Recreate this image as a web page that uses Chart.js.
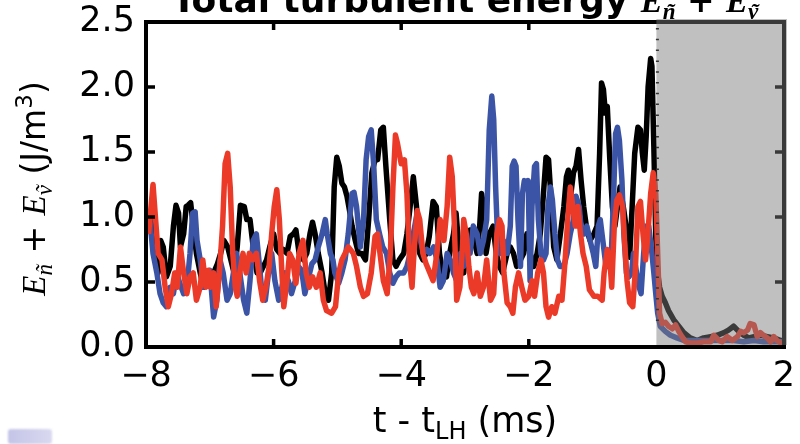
<!DOCTYPE html>
<html>
<head>
<meta charset="utf-8">
<title>Total turbulent energy</title>
<script src="https://cdn.jsdelivr.net/npm/chart.js@4.4.0/dist/chart.umd.min.js"></script>
<style>
    html, body { margin: 0; padding: 0; background: #ffffff; }
    #wrap { position: relative; width: 800px; height: 444px; overflow: hidden; }
    #energy-chart { position: absolute; left: 0; top: 0; }
    #corner-mark {
        position: absolute; left: 8px; top: 429px; width: 44px; height: 15px;
        background: linear-gradient(90deg, #c4c4e8, #d9d9f0);
        border-radius: 3px; filter: blur(1px);
    }
</style>
</head>
<body>
<div id="wrap">
    <canvas id="energy-chart" width="800" height="444"></canvas>
    <div id="corner-mark"></div>
</div>
<script>
// Time axis ticks (ms relative to the L-H transition) and energy ticks (J/m^3)
const timeTicks = [-8, -6, -4, -2, 0, 2];
const energyTicks = [0.0, 0.5, 1.0, 1.5, 2.0, 2.5];

// Black trace
const blackT = [-7.96, -7.91, -7.86, -7.81, -7.77, -7.73, -7.68, -7.62, -7.57, -7.53, -7.49, -7.46, -7.41, -7.37, -7.34, -7.30, -7.26, -7.21, -7.15, -7.10,
    -7.05, -7.00, -6.94, -6.88, -6.83, -6.78, -6.72, -6.67, -6.62, -6.57, -6.52, -6.46, -6.42, -6.37, -6.32, -6.26, -6.21, -6.16, -6.11, -6.06,
    -6.00, -5.95, -5.90, -5.85, -5.79, -5.74, -5.69, -5.65, -5.60, -5.53, -5.48, -5.43, -5.39, -5.35, -5.30, -5.24, -5.19, -5.14, -5.09, -5.05,
    -5.01, -4.97, -4.93, -4.89, -4.85, -4.81, -4.77, -4.72, -4.67, -4.62, -4.56, -4.51, -4.46, -4.41, -4.37, -4.32, -4.28, -4.24, -4.18, -4.13,
    -4.08, -4.03, -3.96, -3.91, -3.86, -3.81, -3.76, -3.71, -3.66, -3.61, -3.56, -3.50, -3.45, -3.40, -3.35, -3.29, -3.24, -3.18, -3.14, -3.09,
    -3.02, -2.97, -2.92, -2.87, -2.81, -2.77, -2.74, -2.71, -2.67, -2.62, -2.56, -2.51, -2.46, -2.41, -2.34, -2.29, -2.24, -2.19, -2.13, -2.08,
    -2.03, -1.98, -1.92, -1.87, -1.82, -1.77, -1.73, -1.69, -1.65, -1.61, -1.56, -1.51, -1.45, -1.41, -1.38, -1.34, -1.30, -1.26, -1.22, -1.18,
    -1.14, -1.09, -1.04, -0.98, -0.93, -0.89, -0.86, -0.83, -0.80, -0.77, -0.73, -0.69, -0.65, -0.61, -0.57, -0.51, -0.46, -0.42, -0.38, -0.34,
    -0.29, -0.25, -0.22, -0.19, -0.16, -0.13, -0.09, -0.07, -0.04, -0.01, 0.02, 0.05, 0.09, 0.14, 0.19, 0.27, 0.35, 0.43, 0.53, 0.64,
    0.74, 0.85, 0.95, 1.06, 1.13, 1.21, 1.29, 1.37, 1.45, 1.53, 1.63, 1.74, 1.84, 1.95, 2.00];
const blackE = [0.87, 0.98, 0.72, 0.57, 0.82, 0.77, 0.54, 0.62, 0.93, 1.09, 1.03, 0.77, 0.87, 1.08, 1.09, 1.11, 0.93, 0.72, 0.57, 0.46,
    0.51, 0.57, 0.57, 0.64, 0.72, 0.82, 0.77, 0.67, 0.57, 0.77, 1.09, 1.08, 0.98, 0.98, 0.77, 0.57, 0.57, 0.62, 0.67, 0.77,
    0.87, 0.75, 0.72, 0.75, 0.72, 0.85, 0.87, 0.90, 0.72, 0.67, 0.72, 0.87, 0.96, 0.87, 0.72, 0.57, 0.41, 0.36, 0.57, 1.23,
    1.46, 1.39, 1.26, 1.23, 1.16, 1.05, 0.93, 0.82, 0.72, 0.72, 0.67, 0.98, 1.34, 1.44, 1.44, 1.67, 1.69, 1.39, 0.98, 0.67,
    0.62, 0.67, 0.72, 0.87, 1.08, 1.31, 1.08, 0.72, 0.67, 0.72, 0.85, 1.12, 1.08, 0.72, 0.57, 0.54, 0.72, 0.87, 1.03, 0.72,
    0.57, 0.82, 0.90, 0.85, 0.72, 0.93, 1.18, 1.08, 0.72, 0.87, 0.93, 0.72, 0.62, 0.57, 0.72, 0.77, 0.72, 0.62, 0.67, 0.72,
    0.87, 0.72, 0.62, 0.72, 0.87, 1.18, 1.46, 1.44, 1.13, 0.77, 0.67, 0.85, 1.08, 1.31, 1.36, 1.18, 1.34, 1.39, 1.52, 1.28,
    1.08, 0.90, 0.82, 0.87, 0.93, 1.49, 2.03, 1.98, 1.80, 1.85, 1.44, 1.08, 0.93, 1.08, 1.23, 1.05, 0.87, 0.69, 1.08, 1.49,
    1.69, 1.67, 1.49, 1.36, 1.62, 2.00, 2.22, 2.16, 1.54, 0.85, 0.57, 0.46, 0.39, 0.34, 0.28, 0.21, 0.16, 0.11, 0.07, 0.05,
    0.07, 0.08, 0.09, 0.11, 0.13, 0.16, 0.12, 0.09, 0.07, 0.08, 0.09, 0.08, 0.07, 0.05, 0.05];

// Blue trace
const blueT = [-7.98, -7.94, -7.89, -7.83, -7.78, -7.73, -7.68, -7.62, -7.57, -7.52, -7.47, -7.41, -7.36, -7.31, -7.27, -7.23, -7.20, -7.15, -7.10, -7.05,
    -7.00, -6.94, -6.89, -6.84, -6.79, -6.73, -6.68, -6.63, -6.58, -6.53, -6.47, -6.42, -6.37, -6.32, -6.27, -6.24, -6.19, -6.13, -6.08, -6.03,
    -5.98, -5.92, -5.87, -5.82, -5.77, -5.72, -5.66, -5.61, -5.56, -5.51, -5.45, -5.40, -5.35, -5.30, -5.24, -5.19, -5.16, -5.11, -5.07, -5.04,
    -4.98, -4.93, -4.88, -4.83, -4.77, -4.74, -4.70, -4.64, -4.59, -4.55, -4.51, -4.47, -4.43, -4.39, -4.34, -4.29, -4.23, -4.18, -4.13, -4.08,
    -4.03, -3.96, -3.91, -3.86, -3.81, -3.75, -3.70, -3.65, -3.60, -3.55, -3.49, -3.44, -3.39, -3.34, -3.28, -3.23, -3.18, -3.13, -3.07, -3.02,
    -2.97, -2.92, -2.87, -2.81, -2.76, -2.71, -2.66, -2.62, -2.58, -2.55, -2.52, -2.49, -2.45, -2.40, -2.34, -2.29, -2.26, -2.23, -2.20, -2.17,
    -2.13, -2.10, -2.07, -2.04, -2.01, -1.98, -1.95, -1.91, -1.88, -1.85, -1.81, -1.77, -1.73, -1.70, -1.66, -1.63, -1.59, -1.55, -1.51, -1.45,
    -1.40, -1.35, -1.30, -1.26, -1.21, -1.17, -1.13, -1.09, -1.04, -0.99, -0.95, -0.91, -0.88, -0.84, -0.79, -0.75, -0.71, -0.67, -0.64, -0.61,
    -0.58, -0.54, -0.51, -0.47, -0.43, -0.39, -0.36, -0.31, -0.27, -0.24, -0.20, -0.16, -0.12, -0.07, -0.04, -0.01, 0.02, 0.06, 0.14, 0.22,
    0.32, 0.43, 0.58, 0.74, 0.90, 1.06, 1.21, 1.37, 1.53, 1.68, 1.84, 2.00];
const blueE = [0.87, 0.98, 0.72, 0.57, 0.41, 0.34, 0.31, 0.46, 0.41, 0.57, 0.49, 0.41, 0.46, 0.72, 1.03, 1.04, 0.82, 0.67, 0.46, 0.57,
    0.59, 0.23, 0.36, 0.67, 0.57, 0.36, 0.41, 0.57, 0.72, 0.57, 0.36, 0.26, 0.51, 0.82, 0.87, 0.72, 0.46, 0.36, 0.57, 0.72,
    0.51, 0.36, 0.46, 0.57, 0.51, 0.41, 0.51, 0.62, 0.59, 0.41, 0.54, 0.64, 0.67, 0.77, 0.87, 0.98, 0.87, 0.72, 0.67, 0.57,
    0.49, 0.57, 0.67, 0.87, 1.18, 1.19, 1.08, 0.77, 0.98, 1.44, 1.62, 1.67, 1.39, 0.98, 0.87, 0.77, 0.72, 0.57, 0.49, 0.54,
    0.57, 0.57, 0.62, 0.72, 0.87, 1.03, 0.82, 0.72, 0.75, 0.72, 0.77, 0.67, 0.46, 0.51, 0.72, 0.67, 0.57, 0.51, 0.72, 0.62,
    0.82, 0.72, 0.93, 0.87, 0.72, 0.82, 0.98, 1.67, 1.93, 1.75, 1.23, 0.85, 0.72, 0.82, 0.72, 0.93, 1.39, 1.43, 1.39, 0.98,
    0.62, 1.18, 1.28, 1.23, 1.28, 0.51, 1.08, 1.39, 1.41, 0.98, 0.72, 0.67, 0.72, 1.08, 1.23, 1.13, 0.87, 0.67, 0.62, 0.62,
    0.72, 0.87, 0.98, 1.16, 1.08, 0.87, 0.87, 0.93, 0.82, 0.72, 0.62, 0.93, 0.98, 0.82, 0.62, 0.62, 0.67, 1.18, 1.64, 1.69,
    1.59, 1.28, 0.87, 0.57, 0.54, 0.57, 0.72, 0.57, 0.46, 0.41, 0.72, 0.93, 0.93, 0.72, 0.57, 0.41, 0.26, 0.16, 0.12, 0.09,
    0.07, 0.05, 0.05, 0.05, 0.05, 0.05, 0.05, 0.04, 0.05, 0.04, 0.04, 0.04];

// Red trace
const redT = [-7.96, -7.89, -7.81, -7.75, -7.70, -7.65, -7.60, -7.55, -7.51, -7.46, -7.41, -7.36, -7.31, -7.26, -7.21, -7.15, -7.11, -7.06, -7.02, -6.99,
    -6.94, -6.90, -6.85, -6.80, -6.76, -6.72, -6.68, -6.64, -6.60, -6.57, -6.53, -6.48, -6.43, -6.38, -6.33, -6.27, -6.22, -6.17, -6.12, -6.07,
    -6.03, -5.99, -5.95, -5.91, -5.87, -5.84, -5.79, -5.75, -5.70, -5.65, -5.60, -5.54, -5.49, -5.44, -5.39, -5.33, -5.27, -5.22, -5.17, -5.09,
    -5.03, -4.98, -4.93, -4.88, -4.83, -4.75, -4.70, -4.64, -4.59, -4.53, -4.47, -4.41, -4.37, -4.32, -4.28, -4.22, -4.17, -4.13, -4.09, -4.06,
    -4.00, -3.95, -3.91, -3.87, -3.83, -3.80, -3.75, -3.71, -3.66, -3.61, -3.55, -3.50, -3.44, -3.39, -3.33, -3.28, -3.24, -3.20, -3.17, -3.13,
    -3.08, -3.04, -3.02, -2.98, -2.94, -2.90, -2.86, -2.81, -2.76, -2.71, -2.66, -2.60, -2.55, -2.50, -2.46, -2.42, -2.39, -2.34, -2.29, -2.25,
    -2.21, -2.16, -2.11, -2.06, -2.00, -1.95, -1.91, -1.86, -1.81, -1.77, -1.73, -1.69, -1.64, -1.59, -1.53, -1.48, -1.43, -1.39, -1.35, -1.31,
    -1.27, -1.23, -1.19, -1.15, -1.10, -1.05, -0.98, -0.92, -0.85, -0.82, -0.77, -0.73, -0.70, -0.66, -0.62, -0.58, -0.53, -0.50, -0.46, -0.42,
    -0.37, -0.33, -0.29, -0.25, -0.21, -0.17, -0.14, -0.09, -0.05, -0.01, 0.02, 0.05, 0.09, 0.14, 0.19, 0.25, 0.30, 0.35, 0.40, 0.46,
    0.53, 0.64, 0.74, 0.85, 0.90, 0.98, 1.03, 1.11, 1.19, 1.27, 1.32, 1.37, 1.43, 1.47, 1.53, 1.58, 1.63, 1.68, 1.74, 1.79,
    1.84, 1.89, 1.95, 2.00];
const redE = [0.87, 1.25, 0.72, 0.67, 0.46, 0.31, 0.41, 0.57, 0.46, 0.77, 0.57, 0.41, 0.54, 0.57, 0.36, 0.46, 0.67, 0.46, 0.59, 0.46,
    0.57, 0.31, 0.57, 0.93, 1.41, 1.49, 1.23, 0.72, 0.46, 0.39, 0.57, 0.72, 0.57, 0.72, 0.67, 0.72, 0.51, 0.36, 0.46, 0.62,
    0.87, 1.08, 1.21, 0.98, 0.57, 0.31, 0.51, 0.72, 0.67, 0.49, 0.72, 0.82, 0.57, 0.46, 0.54, 0.46, 0.57, 0.36, 0.28, 0.26,
    0.31, 0.57, 0.67, 0.72, 0.77, 0.72, 0.62, 0.46, 0.39, 0.41, 0.57, 0.85, 0.87, 0.67, 0.51, 0.41, 0.72, 1.23, 1.63, 1.57,
    1.41, 1.44, 1.18, 0.67, 0.46, 0.72, 1.05, 0.98, 0.72, 0.64, 0.57, 0.51, 0.72, 0.98, 0.82, 1.08, 1.46, 1.31, 0.98, 0.36,
    0.46, 0.77, 0.98, 0.87, 0.62, 0.46, 0.41, 0.57, 0.39, 0.46, 0.67, 0.36, 0.41, 0.87, 0.98, 0.93, 0.57, 0.34, 0.31, 0.26,
    0.46, 0.57, 0.46, 0.36, 0.39, 0.51, 0.39, 0.57, 0.67, 0.57, 0.31, 0.23, 0.31, 0.26, 0.39, 0.36, 0.67, 0.98, 1.23, 1.08,
    0.93, 1.08, 0.87, 0.72, 0.62, 0.44, 0.39, 0.39, 0.36, 0.57, 0.75, 0.67, 0.46, 0.93, 1.13, 1.17, 1.08, 0.82, 0.51, 0.34,
    0.31, 0.59, 1.08, 1.12, 0.87, 0.67, 0.82, 1.18, 1.34, 1.18, 0.72, 0.26, 0.18, 0.19, 0.16, 0.14, 0.17, 0.12, 0.08, 0.04,
    0.03, 0.03, 0.04, 0.04, 0.09, 0.05, 0.04, 0.08, 0.05, 0.08, 0.12, 0.11, 0.13, 0.18, 0.17, 0.08, 0.11, 0.09, 0.07, 0.04,
    0.08, 0.05, 0.03, 0.03];

// Colours
const colors = {
    black: '#000000',
    blue: '#3b54a6',
    red: '#ec3a28',
    shade: 'rgba(122, 122, 122, 0.475)'
};

const FONT = 'DejaVu Sans';

function toPoints(times, values) {
    return times.map((t, i) => ({ x: t, y: values[i] }));
}

function traceDataset(label, times, values, color) {
    return {
        label: label,
        data: toPoints(times, values),
        borderColor: color,
        backgroundColor: color,
        borderWidth: 5.5,
        borderJoinStyle: 'round',
        pointRadius: 0,
        tension: 0,
        fill: false
    };
}

/**
 * Axes box, inward ticks, the shaded post-transition window and the dashed t = 0 marker
 */
const framePlugin = {
    id: 'frame',
    afterDatasetsDraw(chart) {
        const { ctx, chartArea: a, scales: { x, y } } = chart;
        ctx.save();

        ctx.strokeStyle = '#000';
        ctx.lineWidth = 3.5;
        ctx.beginPath();
        timeTicks.slice(1, -2).forEach(v => {
            const px = x.getPixelForValue(v);
            ctx.moveTo(px, a.bottom);
            ctx.lineTo(px, a.bottom - 8);
            ctx.moveTo(px, a.top);
            ctx.lineTo(px, a.top + 8);
        });
        energyTicks.slice(1, -1).forEach(v => {
            const py = y.getPixelForValue(v);
            ctx.moveTo(a.left, py);
            ctx.lineTo(a.left + 9, py);
            ctx.moveTo(a.right, py);
            ctx.lineTo(a.right - 9, py);
        });
        ctx.stroke();

        ctx.lineWidth = 4;
        ctx.strokeRect(a.left, a.top, a.right - a.left, a.bottom - a.top);

        // H-mode window, laid over the traces
        const x0 = x.getPixelForValue(0);
        ctx.fillStyle = colors.shade;
        ctx.fillRect(x0, a.top - 3, a.right + 3 - x0, a.bottom - a.top + 1);

        ctx.strokeStyle = '#333';
        ctx.lineWidth = 3;
        ctx.setLineDash([1.5, 9.3]);
        ctx.beginPath();
        ctx.moveTo(x0 + 1, a.top + 6);
        ctx.lineTo(x0 + 1, a.bottom - 20);
        ctx.stroke();
        ctx.restore();
    },
    afterDraw(chart) {
        const { ctx, chartArea: a } = chart;
        const midX = (a.left + a.right) / 2;
        ctx.save();
        ctx.fillStyle = '#000';
        ctx.textBaseline = 'alphabetic';

        // x axis title: t - t_LH (ms)
        const xParts = [
            { text: 't - t', font: '35px "' + FONT + '"', dy: 0 },
            { text: 'LH', font: '24px "' + FONT + '"', dy: 7 },
            { text: ' (ms)', font: '35px "' + FONT + '"', dy: 0 }
        ];
        drawParts(ctx, xParts, midX - measureParts(ctx, xParts) / 2, 432);

        // y axis title: E_ñ + E_ṽ (J/m^3), rotated
        ctx.translate(45, (a.top + a.bottom) / 2);
        ctx.rotate(-Math.PI / 2);
        const yParts = energyLabelParts(33, 23, false);
        drawParts(ctx, yParts, -measureParts(ctx, yParts) / 2 - 4, 0);
        ctx.restore();

        // plot title, running off the top edge
        ctx.save();
        ctx.fillStyle = '#000';
        const tParts = [{ text: 'Total turbulent energy ', font: 'bold 36px "' + FONT + '"', dy: 0 }]
            .concat(energyLabelParts(33, 23, true));
        drawParts(ctx, tParts, midX - measureParts(ctx, tParts) / 2, 12);
        ctx.restore();
    }
};

// Pieces of the E_ñ + E_ṽ label; tilde drawn as an accent over the subscript letter
function energyLabelParts(size, subSize, bold) {
    const weight = bold ? 'bold ' : '';
    const it = 'italic ' + weight + size + 'px "Liberation Serif"';
    const itSub = 'italic ' + weight + subSize + 'px "Liberation Serif"';
    const plain = weight + size + 'px "' + FONT + '"';
    const parts = [
        { text: 'E', font: it, dy: 0 },
        { text: 'n', font: itSub, dy: size * 0.22, tilde: true },
        { text: ' + ', font: plain, dy: 0 },
        { text: 'E', font: it, dy: 0 },
        { text: 'v', font: itSub, dy: size * 0.22, tilde: true }
    ];
    if (!bold) {
        parts.push({ text: ' (J/m', font: plain, dy: 0 });
        parts.push({ text: '3', font: subSize + 'px "' + FONT + '"', dy: -size * 0.4 });
        parts.push({ text: ')', font: plain, dy: 0 });
    }
    return parts;
}

function measureParts(ctx, parts) {
    return parts.reduce((sum, p) => {
        ctx.font = p.font;
        return sum + ctx.measureText(p.text).width;
    }, 0);
}

function drawParts(ctx, parts, x, y) {
    parts.forEach(p => {
        ctx.font = p.font;
        const w = ctx.measureText(p.text).width;
        ctx.fillText(p.text, x, y + p.dy);
        if (p.tilde) {
            ctx.textAlign = 'center';
            ctx.fillText('\u02DC', x + w / 2 + 1, y + p.dy);
            ctx.textAlign = 'left';
        }
        x += w;
    });
}

function formatTime(value) {
    return value < 0 ? '\u2212' + Math.abs(value) : String(value);
}

document.addEventListener('DOMContentLoaded', () => {
    const ctx = document.getElementById('energy-chart');
    new Chart(ctx, {
        type: 'line',
        data: {
            datasets: [
                traceDataset('red', redT, redE, colors.red),
                traceDataset('blue', blueT, blueE, colors.blue),
                traceDataset('black', blackT, blackE, colors.black)
            ]
        },
        options: {
            responsive: false,
            animation: false,
            devicePixelRatio: 1,
            layout: {
                padding: { top: 22, right: 16, left: 0, bottom: 0 }
            },
            plugins: {
                legend: { display: false },
                tooltip: { enabled: false },
                title: { display: false }
            },
            scales: {
                x: {
                    type: 'linear',
                    min: -8,
                    max: 2,
                    afterFit: scale => {
                        scale.height = 97;
                        scale.paddingLeft = 0;
                        scale.paddingRight = 0;
                    },
                    afterBuildTicks: scale => { scale.ticks = timeTicks.map(v => ({ value: v })); },
                    grid: { display: false, drawTicks: false },
                    border: { display: false },
                    ticks: {
                        padding: 9,
                        maxRotation: 0,
                        color: '#000',
                        font: { family: FONT, size: 35 },
                        callback: formatTime
                    }
                },
                y: {
                    type: 'linear',
                    min: 0,
                    max: 2.5,
                    afterFit: scale => {
                        scale.width = 146;
                        scale.paddingTop = 0;
                        scale.paddingBottom = 0;
                    },
                    afterBuildTicks: scale => { scale.ticks = energyTicks.map(v => ({ value: v })); },
                    grid: { display: false, drawTicks: false },
                    border: { display: false },
                    ticks: {
                        padding: 11,
                        color: '#000',
                        font: { family: FONT, size: 35 },
                        callback: value => value.toFixed(1)
                    }
                }
            }
        },
        plugins: [framePlugin]
    });
});
</script>
</body>
</html>
